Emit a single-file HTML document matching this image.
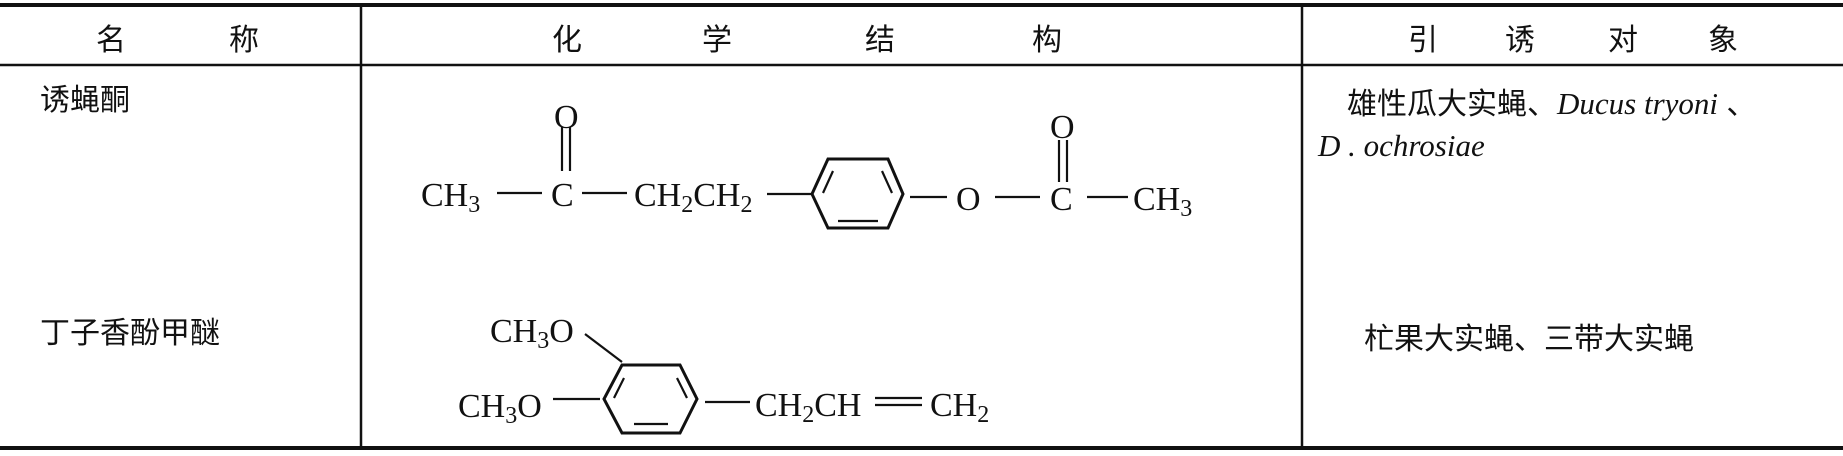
<!DOCTYPE html>
<html><head><meta charset="utf-8"><style>
html,body{margin:0;padding:0;background:#fff}
svg{display:block}
.c{font-family:"Liberation Sans","Noto Sans CJK SC",sans-serif;font-size:30px;fill:#111}
.t{font-family:"Liberation Serif",serif;font-size:34px;fill:#111}
.s{font-size:24px}
.i{font-family:"Liberation Serif",serif;font-style:italic;font-size:31px;fill:#111}
</style></head><body>
<svg width="1843" height="456" viewBox="0 0 1843 456" xmlns="http://www.w3.org/2000/svg">
<g stroke="#111" fill="none">
<line x1="0" y1="5" x2="1843" y2="5" stroke-width="4"/>
<line x1="0" y1="65" x2="1843" y2="65" stroke-width="2.5"/>
<line x1="0" y1="448" x2="1843" y2="448" stroke-width="4"/>
<line x1="361" y1="5" x2="361" y2="448" stroke-width="2.5"/>
<line x1="1302" y1="5" x2="1302" y2="448" stroke-width="2.5"/>
</g>
<g class="c" text-anchor="middle">
<text x="111" y="50">名</text><text x="244" y="50">称</text>
<text x="567" y="50">化</text><text x="717" y="50">学</text><text x="880" y="50">结</text><text x="1047" y="50">构</text>
<text x="1423" y="50">引</text><text x="1520" y="50">诱</text><text x="1623" y="50">对</text><text x="1723" y="50">象</text>
</g>
<text class="c" x="40" y="110">诱蝇酮</text>
<text class="c" x="40" y="343">丁子香酚甲醚</text>
<text class="c" x="1347" y="114">雄性瓜大实蝇、<tspan class="i">Ducus tryoni</tspan> 、</text>
<text class="i" x="1318" y="156">D . ochrosiae</text>
<text class="c" x="1364" y="349">杧果大实蝇、三带大实蝇</text>

<g stroke="#111" stroke-width="2.2" fill="none">
<line x1="497" y1="193" x2="542" y2="193"/>
<line x1="582" y1="193" x2="627" y2="193"/>
<line x1="562" y1="127" x2="562" y2="171"/>
<line x1="570" y1="127" x2="570" y2="171"/>
<line x1="767" y1="194" x2="812" y2="194"/>
<polygon points="812,194 828,159 888,159 903,194 888,228 828,228" stroke-width="3"/>
<line x1="833" y1="171" x2="823" y2="193"/>
<line x1="882" y1="171" x2="892" y2="193"/>
<line x1="838" y1="221" x2="878" y2="221"/>
<line x1="910" y1="197" x2="947" y2="197"/>
<line x1="995" y1="197" x2="1040" y2="197"/>
<line x1="1059" y1="140" x2="1059" y2="182"/>
<line x1="1067" y1="140" x2="1067" y2="182"/>
<line x1="1087" y1="197" x2="1128" y2="197"/>
</g>
<g class="t">
<text x="421" y="206">CH<tspan class="s" dy="6">3</tspan></text>
<text x="551" y="206">C</text>
<text x="554" y="128">O</text>
<text x="634" y="206">CH<tspan class="s" dy="6">2</tspan><tspan dy="-6">CH</tspan><tspan class="s" dy="6">2</tspan></text>
<text x="956" y="210">O</text>
<text x="1050" y="210">C</text>
<text x="1050" y="138">O</text>
<text x="1133" y="210">CH<tspan class="s" dy="6">3</tspan></text>
</g>

<g stroke="#111" stroke-width="2.2" fill="none">
<line x1="585" y1="334" x2="622" y2="362"/>
<polygon points="604,399 622,365 680,365 697,399 680,433 622,433" stroke-width="3"/>
<line x1="624" y1="378" x2="614" y2="398"/>
<line x1="677" y1="378" x2="687" y2="398"/>
<line x1="634" y1="424" x2="668" y2="424"/>
<line x1="553" y1="399" x2="600" y2="399"/>
<line x1="705" y1="402" x2="750" y2="402"/>
<line x1="875" y1="398" x2="922" y2="398"/>
<line x1="875" y1="405" x2="922" y2="405"/>
</g>
<g class="t">
<text x="490" y="342">CH<tspan class="s" dy="6">3</tspan><tspan dy="-6">O</tspan></text>
<text x="458" y="417">CH<tspan class="s" dy="6">3</tspan><tspan dy="-6">O</tspan></text>
<text x="755" y="416">CH<tspan class="s" dy="6">2</tspan><tspan dy="-6">CH</tspan></text>
<text x="930" y="416">CH<tspan class="s" dy="6">2</tspan></text>
</g>
</svg>
</body></html>
